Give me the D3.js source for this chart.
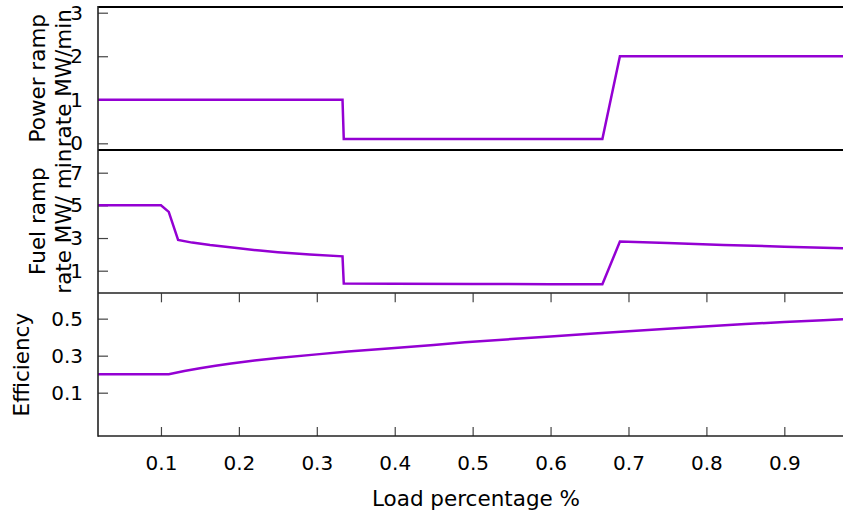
<!DOCTYPE html>
<html>
<head>
<meta charset="utf-8">
<script src="https://cdn.jsdelivr.net/npm/d3@7"></script>
<style>
  html, body { margin: 0; padding: 0; background: #fff; }
  svg { display: block; font-family: "DejaVu Sans", sans-serif; }
</style>
</head>
<body>
<svg id="chart" width="843" height="513"></svg>
<script>
// Load fraction (x) and the three quantities plotted against it
const powerLoad = [0.0192, 0.333, 0.3346, 0.6665, 0.689, 0.9753];
const powerRamp = [1, 1, 0.1, 0.1, 2, 2];

const fuelLoad = [0.0192, 0.1, 0.11, 0.122, 0.14, 0.163, 0.2, 0.227, 0.25, 0.291, 0.333, 0.3346,
                  0.4, 0.5, 0.6, 0.6665, 0.689, 0.75, 0.822, 0.9, 0.9753];
const fuelRamp = [5, 5, 4.6, 2.88, 2.72, 2.57, 2.37, 2.23, 2.13, 1.99, 1.88, 0.21,
                  0.2, 0.19, 0.178, 0.17, 2.78, 2.69, 2.58, 2.47, 2.37];

const effLoad = [0.0192, 0.11, 0.13, 0.15, 0.17, 0.19, 0.22, 0.25, 0.3, 0.34, 0.4, 0.45, 0.49,
                 0.55, 0.6, 0.651, 0.7, 0.75, 0.813, 0.85, 0.9, 0.95, 0.9753];
const efficiency = [0.2, 0.2, 0.217, 0.232, 0.246, 0.258, 0.274, 0.288, 0.307, 0.322, 0.342, 0.358,
                    0.372, 0.39, 0.404, 0.419, 0.432, 0.445, 0.462, 0.471, 0.482, 0.492, 0.497];

const xTicks = [0.1, 0.2, 0.3, 0.4, 0.5, 0.6, 0.7, 0.8, 0.9];
const powerTicks = [0, 1, 2, 3];
const fuelTicks = [1, 3, 5, 7];
const effTicks = [0.1, 0.3, 0.5];

const svg = d3.select("#chart");
const TICK_FONT = 20;
const TITLE_FONT = 21.5;
const lineColor = "#9400d3";

const x = d3.scaleLinear().domain([0.0192, 0.9753]).range([98, 843]);

const panels = [
  { xs: powerLoad, ys: powerRamp, ticks: powerTicks, top: 7, bottom: 149.5,
    domain: [-0.142, 3.131], fmt: d3.format("d"),
    label: ["Power ramp", "rate MW/min"] },
  { xs: fuelLoad, ys: fuelRamp, ticks: fuelTicks, top: 149.7, bottom: 292.7,
    domain: [-0.347, 8.408], fmt: d3.format("d"),
    label: ["Fuel ramp", "rate MW/ min"] },
  { xs: effLoad, ys: efficiency, ticks: effTicks, top: 293.3, bottom: 436,
    domain: [-0.134, 0.637], fmt: d3.format(".1f"),
    label: ["Efficiency"] }
];

panels.forEach((p, i) => {
  const y = d3.scaleLinear().domain(p.domain).range([p.bottom, p.top]);

  // left axis with inward ticks
  const ay = svg.append("g").attr("transform", "translate(98,0)")
    .call(d3.axisLeft(y).tickValues(p.ticks).tickFormat(p.fmt)
      .tickSize(-10).tickPadding(15));
  ay.select(".domain").remove();
  ay.selectAll(".tick line").attr("stroke", "#444").attr("stroke-width", 1.2);
  ay.selectAll(".tick text").attr("font-size", TICK_FONT).attr("fill", "#000")
    .attr("font-family", "DejaVu Sans, sans-serif");

  // series
  const pts = p.xs.map((v, k) => [v, p.ys[k]]);
  svg.append("path")
    .datum(pts)
    .attr("fill", "none")
    .attr("stroke", lineColor)
    .attr("stroke-width", 2.5)
    .attr("stroke-linejoin", "miter")
    .attr("d", d3.line().x(d => x(d[0])).y(d => y(d[1])));

  // rotated y label (one or two lines, centred on the panel)
  const cy = (p.top + p.bottom) / 2;
  const baselines = p.label.length === 2 ? [45, 71] : [29];
  p.label.forEach((t, k) => {
    svg.append("text")
      .attr("transform", `translate(${baselines[k]},${cy}) rotate(-90)`)
      .attr("text-anchor", "middle")
      .attr("font-size", TITLE_FONT)
      .text(t);
  });
});

// x axis ticks on the bottom panel (bottom and top edges)
const bottomPanel = panels[2];
const ax = svg.append("g").attr("transform", `translate(0,${bottomPanel.bottom})`)
  .call(d3.axisBottom(x).tickValues(xTicks).tickFormat(d3.format(".1f"))
    .tickSize(-9).tickPadding(20));
ax.select(".domain").remove();
ax.selectAll(".tick line").attr("stroke", "#444").attr("stroke-width", 1.2);
ax.selectAll(".tick text").attr("font-size", TICK_FONT).attr("fill", "#000")
  .attr("font-family", "DejaVu Sans, sans-serif");

const axTop = svg.append("g").attr("transform", `translate(0,${bottomPanel.top})`)
  .call(d3.axisTop(x).tickValues(xTicks).tickFormat("").tickSize(-9));
axTop.select(".domain").remove();
axTop.selectAll(".tick line").attr("stroke", "#444").attr("stroke-width", 1.2);

// panel borders
const hLines = [
  { y: 7, c: "#000", w: 2 },
  { y: 150, c: "#000", w: 2.2 },
  { y: 293, c: "#222", w: 1.6 },
  { y: 436, c: "#222", w: 1.6 }
];
hLines.forEach(l => {
  svg.append("line").attr("x1", 98).attr("x2", 843)
    .attr("y1", l.y).attr("y2", l.y)
    .attr("stroke", l.c).attr("stroke-width", l.w);
});
svg.append("line").attr("x1", 98).attr("x2", 98).attr("y1", 6).attr("y2", 436.8)
  .attr("stroke", "#222").attr("stroke-width", 1.6);

// x axis title
svg.append("text")
  .attr("x", 476).attr("y", 506)
  .attr("text-anchor", "middle")
  .attr("font-size", TITLE_FONT)
  .text("Load percentage %");
</script>
</body>
</html>
